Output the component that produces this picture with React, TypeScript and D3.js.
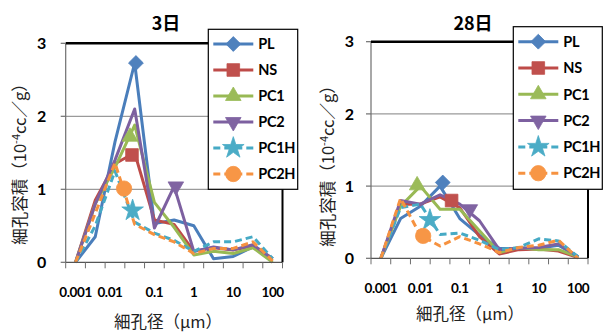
import * as d3 from "d3";

// pore diameter classes (µm)
const sizes = [0.001, 0.00316, 0.01, 0.0316, 0.1, 0.316, 1, 3.16, 10, 31.6, 100];
const seriesNames = ["PL", "NS", "PC1", "PC2", "PC1H", "PC2H"];
const xTickValues = [0.001, 0.01, 0.1, 1, 10, 100];
const xTickLabels = ["0.001", "0.01", "0.1", "1", "10", "100"];
const yTickValues = [0, 1, 2, 3];

// 3日
const d3PL = [0, 0.35, 1.65, 2.73, 0.53, 0.58, 0.5, 0.05, 0.08, 0.21, 0.05];
const d3NS = [0, 0.85, 1.35, 1.5, 0.58, 0.52, 0.15, 0.2, 0.17, 0.22, 0.05];
const d3PC1 = [0, 0.8, 1.3, 1.88, 0.82, 0.48, 0.1, 0.15, 0.12, 0.2, 0];
const d3PC2 = [0, 0.8, 1.4, 2.1, 0.47, 1.04, 0.15, 0.21, 0.17, 0.24, 0.05];
const d3PC1H = [0, 0.5, 1.25, 0.55, 0.4, 0.3, 0.15, 0.28, 0.28, 0.35, 0.05];
const d3PC2H = [0, 0.67, 1.36, 0.52, 0.38, 0.28, 0.12, 0.19, 0.19, 0.28, 0.02];
const d3MarkerX = [0.034, 0.027, 0.024, 0.35, 0.028, 0.017];
const d3MarkerY = [2.73, 1.47, 1.72, 1.04, 0.71, 1.01];

// 28日
const d28PL = [0, 0.55, 0.72, 1.0, 0.55, 0.32, 0.14, 0.13, 0.14, 0.18, 0.02];
const d28NS = [0, 0.75, 0.75, 0.85, 0.7, 0.3, 0.06, 0.12, 0.13, 0.1, 0.01];
const d28PC1 = [0, 0.72, 1.0, 0.68, 0.68, 0.38, 0.08, 0.15, 0.12, 0.12, 0.02];
const d28PC2 = [0, 0.8, 0.75, 0.88, 0.75, 0.52, 0.12, 0.14, 0.15, 0.2, 0.02];
const d28PC1H = [0, 0.7, 0.75, 0.33, 0.35, 0.25, 0.12, 0.15, 0.27, 0.24, 0.02];
const d28PC2H = [0, 0.83, 0.32, 0.17, 0.3, 0.2, 0.08, 0.15, 0.18, 0.25, 0];
const d28MarkerX = [0.037, 0.062, 0.0083, 0.18, 0.0175, 0.0118];
const d28MarkerY = [1.05, 0.8, 1.01, 0.68, 0.53, 0.31];

const lineColors = ["#4A7EBB", "#BE4B48", "#98B954", "#7D60A0", "#46AAC5", "#F69240"];
const fillColors = ["#4F81BD", "#C0504D", "#9BBB59", "#8064A2", "#4BACC6", "#F79646"];
const dashed = [false, false, false, false, true, true];

const latin = "Lato, 'Liberation Sans', Arial, sans-serif";
const cjk = "'Noto Sans CJK JP', sans-serif";

const markerPath = (i: number) => {
  const sym = d3.symbol();
  switch (i) {
    case 0:
      return { d: sym.type(d3.symbolSquare).size(110)()!, rot: 45 };
    case 1:
      return { d: sym.type(d3.symbolSquare).size(160)()!, rot: 0 };
    case 2:
      return { d: sym.type(d3.symbolTriangle).size(105)()!, rot: 0 };
    case 3:
      return { d: sym.type(d3.symbolTriangle).size(105)()!, rot: 180 };
    case 4:
      return { d: sym.type(d3.symbolStar).size(145)()!, rot: 0 };
    default:
      return { d: sym.type(d3.symbolCircle).size(185)()!, rot: 0 };
  }
};

const Marker = ({ i, x, y }: { i: number; x: number; y: number }) => {
  const m = markerPath(i);
  return (
    <path
      d={m.d}
      transform={`translate(${x},${y}) rotate(${m.rot})`}
      fill={fillColors[i]}
      stroke={fillColors[i]}
      strokeWidth={0.8}
    />
  );
};

type PanelProps = {
  title: string;
  series: number[][];
  markerX: number[];
  markerY: number[];
  box: { x0: number; x1: number; top: number; bot: number };
  legend: { x: number; y: number; w: number; h: number; row0: number; step: number };
  titlePos: [number, number];
  yTitlePos: [number, number];
  xTitlePos: [number, number];
  tickBase: number;
  yLabelX: number;
  nudge?: Record<string, number>;
};

const Panel = (p: PanelProps) => {
  const { box, legend } = p;
  const x = d3.scaleLog().domain([0.000562, 177.8]).range([box.x0, box.x1]);
  const y = d3.scaleLinear().domain([0, 3]).range([box.bot, box.top]);
  const line = d3
    .line<number>()
    .x((_, i) => x(sizes[i]))
    .y((d) => y(d));

  // category boundaries
  const bounds = [0.000562, ...sizes.slice(1).map((s, i) => Math.sqrt(s * sizes[i])), 177.8];

  return (
    <g>
      <text
        x={p.titlePos[0]}
        y={p.titlePos[1]}
        textAnchor="middle"
        fontFamily={cjk}
        fontWeight="bold"
        fontSize={18}
      >
        {p.title}
      </text>

      {/* gridlines */}
      {yTickValues.slice(1, 3).map((v) => (
        <line key={v} x1={box.x0} x2={box.x1} y1={y(v)} y2={y(v)} stroke="#9a9a9a" strokeWidth={1.3} />
      ))}

      {/* series */}
      {p.series.map((s, i) => (
        <path
          key={seriesNames[i]}
          d={line(s)!}
          fill="none"
          stroke={lineColors[i]}
          strokeWidth={3}
          strokeDasharray={dashed[i] ? "7,4" : undefined}
          strokeLinejoin="round"
        />
      ))}
      {p.markerX.map((mx, i) => (
        <Marker key={i} i={i} x={x(mx)} y={y(p.markerY[i])} />
      ))}

      {/* axes */}
      <line x1={box.x0} x2={box.x0} y1={box.top} y2={box.bot} stroke="#6e6e6e" strokeWidth={1.2} />
      <line x1={box.x0} x2={box.x1} y1={box.bot} y2={box.bot} stroke="#555" strokeWidth={1.2} />
      <line x1={box.x0} x2={box.x1} y1={box.top} y2={box.top} stroke="#000" strokeWidth={2.6} />
      <line x1={box.x1} x2={box.x1} y1={box.top} y2={box.bot} stroke="#000" strokeWidth={2} />
      {yTickValues.map((v) => (
        <g key={v}>
          <line x1={box.x0 - 5} x2={box.x0} y1={y(v)} y2={y(v)} stroke="#6e6e6e" strokeWidth={1.2} />
          <text
            x={p.yLabelX}
            y={y(v)}
            dy="0.36em"
            textAnchor="middle"
            fontFamily={latin}
            fontWeight="bold"
            fontSize={16}
          >
            {v}
          </text>
        </g>
      ))}
      {bounds.map((b, i) => (
        <line key={i} x1={x(b)} x2={x(b)} y1={box.bot} y2={box.bot + 6} stroke="#6e6e6e" strokeWidth={1} />
      ))}
      {xTickValues.map((v, i) => (
        <text
          key={v}
          x={x(v) + (p.nudge?.[xTickLabels[i]] ?? 0)}
          y={p.tickBase}
          textAnchor="middle"
          fontFamily={latin}
          fontWeight="bold"
          fontSize={13.5}
          letterSpacing={-0.4}
        >
          {xTickLabels[i]}
        </text>
      ))}

      {/* axis titles */}
      <text
        transform={`translate(${p.yTitlePos[0]},${p.yTitlePos[1]}) rotate(-90)`}
        textAnchor="middle"
        dy="0.35em"
        fontFamily={cjk}
        fontSize={16.5}
        fill="#222"
      >
        細孔容積（10
        <tspan dy={-6} fontSize={11}>
          -4
        </tspan>
        <tspan dy={6}>cc／g）</tspan>
      </text>
      <text
        x={p.xTitlePos[0]}
        y={p.xTitlePos[1]}
        textAnchor="middle"
        fontFamily={cjk}
        fontSize={16.5}
        fill="#222"
      >
        細孔径（μm）
      </text>

      {/* legend */}
      <rect x={legend.x} y={legend.y} width={legend.w} height={legend.h} fill="#fff" stroke="#000" strokeWidth={1.2} />
      {seriesNames.map((name, i) => {
        const ly = legend.row0 + i * legend.step;
        const lx = legend.x + 5;
        return (
          <g key={name}>
            <line
              x1={lx}
              x2={lx + 40}
              y1={ly}
              y2={ly}
              stroke={lineColors[i]}
              strokeWidth={3}
              strokeDasharray={dashed[i] ? "7,4" : undefined}
            />
            <Marker i={i} x={lx + 20} y={ly} />
            <text
              x={lx + 45}
              y={ly}
              dy="0.36em"
              fontFamily={latin}
              fontWeight="bold"
              fontSize={14.5}
              letterSpacing={-0.3}
            >
              {name}
            </text>
          </g>
        );
      })}
    </g>
  );
};

export default function App() {
  return (
    <svg
      width={603}
      height={334}
      style={{ position: "absolute", left: 0, top: 0, background: "#fff" }}
    >
      <rect width={603} height={334} fill="#fff" />
      <Panel
        title="3日"
        series={[d3PL, d3NS, d3PC1, d3PC2, d3PC1H, d3PC2H]}
        markerX={d3MarkerX}
        markerY={d3MarkerY}
        box={{ x0: 65.7, x1: 282.5, top: 43.3, bot: 262.3 }}
        legend={{ x: 208.3, y: 29.3, w: 89.4, h: 160, row0: 44, step: 26 }}
        titlePos={[166, 30]}
        yTitlePos={[20, 160]}
        xTitlePos={[168, 328]}
        tickBase={297}
        yLabelX={41.7}
        nudge={{ "0.01": -5 }}
      />
      <Panel
        title="28日"
        series={[d28PL, d28NS, d28PC1, d28PC2, d28PC1H, d28PC2H]}
        markerX={d28MarkerX}
        markerY={d28MarkerY}
        box={{ x0: 371, x1: 588, top: 41.7, bot: 258.3 }}
        legend={{ x: 513.3, y: 26.7, w: 89, h: 162.6, row0: 41.7, step: 26.3 }}
        titlePos={[473, 30]}
        yTitlePos={[328, 162]}
        xTitlePos={[470, 320]}
        tickBase={293}
        yLabelX={349.3}
      />
    </svg>
  );
}
